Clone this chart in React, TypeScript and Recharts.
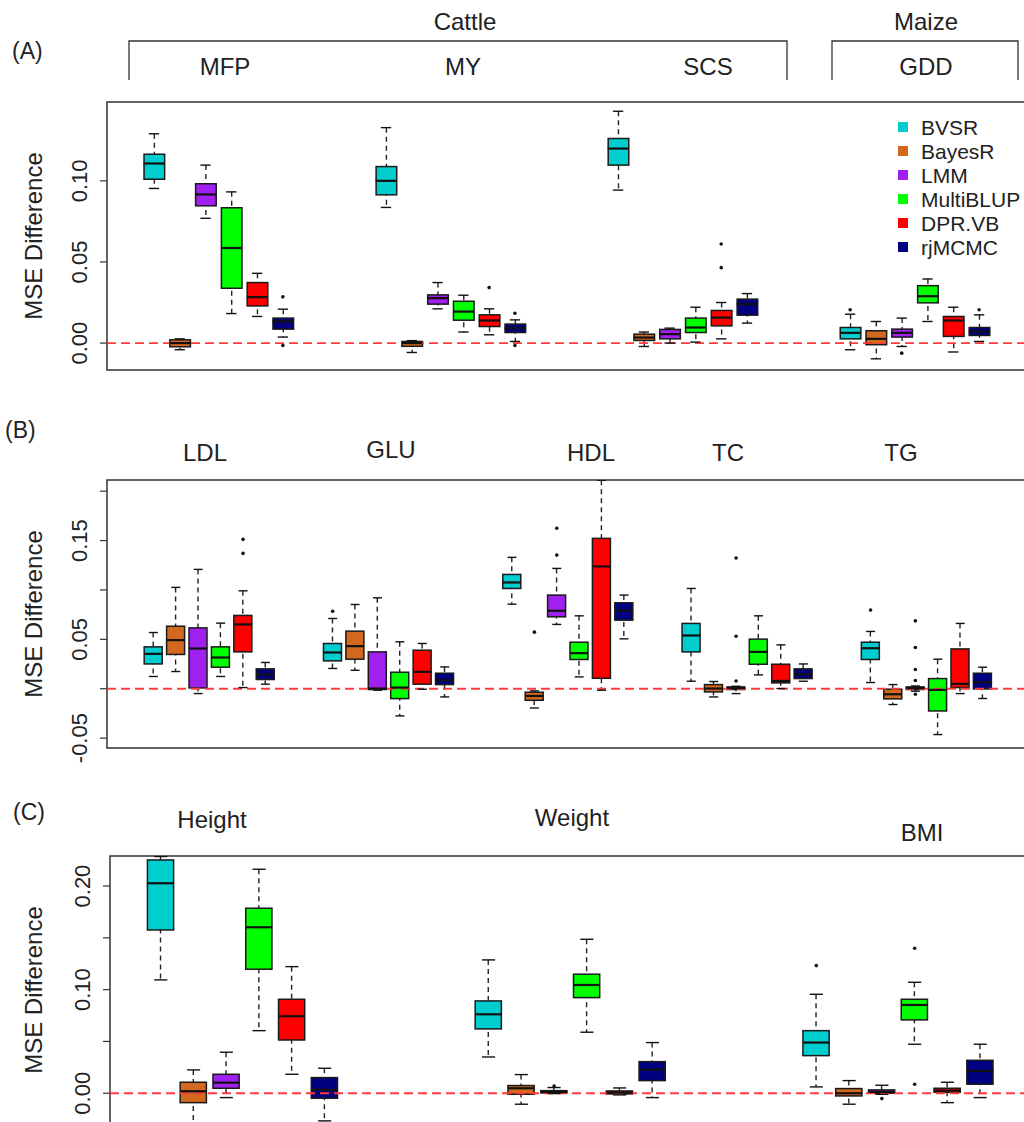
import React from 'react';
import { ComposedChart, Bar, Scatter, XAxis, YAxis, ReferenceLine, ReferenceArea } from 'recharts';

// Box statistics per method: [lower whisker, Q1, median, Q3, upper whisker]
type Stat = [number, number, number, number, number];

const METHODS = ['BVSR', 'BayesR', 'LMM', 'MultiBLUP', 'DPR.VB', 'rjMCMC'];
const COLORS = ['#00CDCD', '#D2691E', '#A020F0', '#00FF00', '#FF0000', '#000080'];

// ---- Panel A: cattle and maize traits ----
const TRAITS_A = ['MFP', 'MY', 'SCS', 'GDD'];
const MFP: Stat[] = [
  [0.0953, 0.101, 0.1107, 0.1164, 0.129],
  [-0.0041, -0.0023, 0.0, 0.002, 0.0026],
  [0.0769, 0.0846, 0.0916, 0.0982, 0.1097],
  [0.0182, 0.0338, 0.0586, 0.0834, 0.0932],
  [0.0164, 0.0229, 0.0283, 0.0373, 0.043],
  [0.0037, 0.0086, 0.0133, 0.0154, 0.0209],
];
const MFP_OUT: number[][] = [[], [], [], [], [], [0.0285, -0.0015]];
const MY: Stat[] = [
  [0.0836, 0.0914, 0.1, 0.1088, 0.1328],
  [-0.0058, -0.002, 0.0, 0.001, 0.0015],
  [0.0211, 0.024, 0.0277, 0.0297, 0.0373],
  [0.0068, 0.0141, 0.0194, 0.0258, 0.0295],
  [0.0051, 0.0102, 0.0139, 0.0174, 0.0211],
  [0.001, 0.0065, 0.0092, 0.0117, 0.0143],
];
const MY_OUT: number[][] = [[], [], [], [], [0.0342], [0.0184, -0.0015]];
const SCS: Stat[] = [
  [0.0943, 0.1097, 0.1199, 0.1261, 0.1429],
  [-0.0021, 0.0016, 0.0034, 0.0055, 0.0068],
  [0.0, 0.0026, 0.0055, 0.0084, 0.0092],
  [0.0006, 0.0065, 0.0096, 0.0154, 0.0221],
  [0.0026, 0.0106, 0.0157, 0.0201, 0.025],
  [0.0123, 0.0172, 0.024, 0.0271, 0.0305],
];
const SCS_OUT: number[][] = [[], [], [], [], [0.0611, 0.0465], []];
const GDD: Stat[] = [
  [-0.0041, 0.0026, 0.0063, 0.0096, 0.0178],
  [-0.0097, -0.001, 0.0026, 0.0076, 0.0133],
  [-0.0021, 0.0037, 0.0063, 0.0086, 0.0154],
  [0.0133, 0.0248, 0.0289, 0.0354, 0.0395],
  [-0.0055, 0.0041, 0.0139, 0.0164, 0.0221],
  [0.001, 0.0047, 0.0071, 0.0096, 0.0174],
];
const GDD_OUT: number[][] = [[0.0205], [], [-0.0062], [], [], [0.0205]];

// ---- Panel B: blood lipid / glucose traits ----
const TRAITS_B = ['LDL', 'GLU', 'HDL', 'TC', 'TG'];
const LDL: Stat[] = [
  [0.0124, 0.0251, 0.0353, 0.0424, 0.0569],
  [0.0174, 0.0347, 0.0492, 0.0633, 0.1026],
  [-0.0049, 0.0008, 0.0407, 0.0616, 0.1208],
  [0.0124, 0.0218, 0.0316, 0.0424, 0.0664],
  [0.0012, 0.0373, 0.0651, 0.0742, 0.0991],
  [0.0046, 0.0093, 0.0144, 0.0201, 0.0266],
];
const LDL_OUT: number[][] = [[], [], [], [], [0.1512, 0.137], []];
const GLU: Stat[] = [
  [0.0205, 0.0282, 0.0367, 0.0458, 0.0711],
  [0.0187, 0.0299, 0.0431, 0.0583, 0.0853],
  [-0.0015, -0.0008, 0.0002, 0.0373, 0.092],
  [-0.0275, -0.01, 0.0012, 0.0167, 0.0475],
  [-0.0005, 0.0046, 0.0171, 0.039, 0.0458],
  [-0.0083, 0.0042, 0.0086, 0.0157, 0.0221],
];
const GLU_OUT: number[][] = [[0.0785], [], [], [], [], []];
const HDL: Stat[] = [
  [0.0856, 0.1015, 0.1076, 0.1157, 0.133],
  [-0.0195, -0.0117, -0.0073, -0.0035, -0.0022],
  [0.0651, 0.0728, 0.0789, 0.0948, 0.1218],
  [0.012, 0.0296, 0.036, 0.0471, 0.0738],
  [-0.0015, 0.0106, 0.1238, 0.1522, 0.211],
  [0.0505, 0.0694, 0.0792, 0.087, 0.0948],
];
const HDL_OUT: number[][] = [[], [0.0573], [0.1624, 0.1353], [], [], []];
const TC: Stat[] = [
  [0.0076, 0.0373, 0.0539, 0.0661, 0.1015],
  [-0.0083, -0.0032, 0.0002, 0.0042, 0.0073],
  [-0.0049, -0.0008, 0.0008, 0.0018, 0.0025],
  [0.014, 0.0248, 0.0373, 0.0502, 0.0738],
  [0.0002, 0.0059, 0.0079, 0.0248, 0.0444],
  [0.0076, 0.0103, 0.0147, 0.0201, 0.0251],
];
const TC_OUT: number[][] = [[], [], [0.1323, 0.0532, 0.0079], [], [], []];
const TG: Stat[] = [
  [0.0063, 0.0296, 0.041, 0.0471, 0.058],
  [-0.016, -0.0103, -0.0056, -0.0005, 0.0042],
  [-0.0025, -0.0008, 0.0008, 0.0018, 0.0028],
  [-0.0464, -0.0225, -0.0012, 0.0103, 0.0299],
  [-0.0049, 0.0012, 0.0049, 0.0403, 0.0661],
  [-0.0099, -0.0002, 0.0066, 0.0157, 0.0218],
];
const TG_OUT: number[][] = [[0.0796], [], [0.0687, 0.0417, 0.0194, 0.0083, -0.0056], [], [], []];

// ---- Panel C: anthropometric traits ----
const TRAITS_C = ['Height', 'Weight', 'BMI'];
const HEIGHT: Stat[] = [
  [0.1094, 0.1576, 0.2027, 0.2252, 0.2285],
  [-0.029, -0.0091, 0.0019, 0.0106, 0.0225],
  [-0.0042, 0.0048, 0.0102, 0.0183, 0.0396],
  [0.0604, 0.1197, 0.1602, 0.1786, 0.2162],
  [0.0183, 0.0514, 0.0743, 0.0907, 0.1222],
  [-0.0267, -0.0048, 0.0032, 0.0151, 0.0241],
];
const HEIGHT_OUT: number[][] = [[], [], [], [], [], []];
const WEIGHT: Stat[] = [
  [0.035, 0.0621, 0.0762, 0.0891, 0.1287],
  [-0.0106, -0.001, 0.0048, 0.0074, 0.018],
  [-0.0003, 0.0003, 0.0012, 0.0025, 0.0055],
  [0.0589, 0.0923, 0.1045, 0.1149, 0.1486],
  [-0.0016, -0.0007, 0.0006, 0.0022, 0.0051],
  [-0.0042, 0.0122, 0.0228, 0.0305, 0.0489],
];
const WEIGHT_OUT: number[][] = [[], [], [0.007], [], [], []];
const BMI: Stat[] = [
  [0.0061, 0.0363, 0.0489, 0.0604, 0.0955],
  [-0.0106, -0.0026, 0.0, 0.0045, 0.0122],
  [-0.001, 0.0, 0.0013, 0.0032, 0.0077],
  [0.0473, 0.0708, 0.0852, 0.0907, 0.1071],
  [-0.0091, 0.001, 0.0025, 0.0048, 0.0106],
  [-0.0042, 0.0087, 0.0215, 0.0318, 0.0473],
];
const BMI_OUT: number[][] = [[0.1232], [], [-0.0052], [0.14, 0.0087], [], []];

// Y axis ticks and which of them carry a label
const TICKS_A = [0, 0.05, 0.1];
const LABELS_A = [0, 0.05, 0.1];
const TICKS_B = [-0.05, 0, 0.05, 0.1, 0.15, 0.2];
const LABELS_B = [-0.05, 0.05, 0.15];
const TICKS_C = [0, 0.05, 0.1, 0.15, 0.2];
const LABELS_C = [0, 0.1, 0.2];

const FONT = "'Liberation Sans', Arial, Helvetica, sans-serif";
const INK = '#222';

interface BoxRow { pos: number; lo: number; q1: number; med: number; q3: number; hi: number; color: string }
interface PointRow { pos: number; v: number }

// Groups of six boxes separated by an empty gap; `step` is the slot distance between groups.
function buildPanel(groups: Stat[][], outs: number[][][], step: number) {
  const rows: BoxRow[] = [];
  const meds: PointRow[] = [];
  const caps: PointRow[] = [];
  const points: PointRow[] = [];
  groups.forEach((g, gi) => {
    g.forEach(([lo, q1, med, q3, hi], mi) => {
      const pos = gi * step + mi + 1;
      rows.push({ pos, lo, q1, med, q3, hi, color: COLORS[mi] });
      meds.push({ pos, v: med });
      caps.push({ pos, v: lo }, { pos, v: hi });
      outs[gi][mi].forEach((v) => points.push({ pos, v }));
    });
  });
  return { rows, meds, caps, points };
}

const panelA = buildPanel([MFP, MY, SCS, GDD], [MFP_OUT, MY_OUT, SCS_OUT, GDD_OUT], 9);
const panelB = buildPanel([LDL, GLU, HDL, TC, TG], [LDL_OUT, GLU_OUT, HDL_OUT, TC_OUT, TG_OUT], 8);
const panelC = buildPanel([HEIGHT, WEIGHT, BMI], [HEIGHT_OUT, WEIGHT_OUT, BMI_OUT], 10);

function WhiskerShape(props: any) {
  const { x, y, width, height } = props;
  const cx = x + width / 2;
  return <line x1={cx} x2={cx} y1={y} y2={y + height} stroke={INK} strokeWidth={1.4} strokeDasharray="5 4" />;
}

function BoxShape(props: any) {
  const { x, y, width, height, payload } = props;
  return (
    <rect x={x} y={Math.min(y, y + height)} width={width} height={Math.abs(height)}
      fill={payload.color} stroke="#1a1a1a" strokeWidth={1.5} />
  );
}

function HLine(props: any) {
  const { cx, cy, w, sw } = props;
  return <line x1={cx - w / 2} x2={cx + w / 2} y1={cy} y2={cy} stroke="#111" strokeWidth={sw} />;
}

function Dot(props: any) {
  const { cx, cy } = props;
  return <circle cx={cx} cy={cy} r={1.8} fill="#111" />;
}

function RotTick(props: any) {
  const { x, y, payload, labels } = props;
  const show = labels.some((l: number) => Math.abs(l - payload.value) < 1e-9);
  if (!show) return null;
  const tx = x - 13;
  return (
    <text x={tx} y={y} transform={`rotate(-90 ${tx} ${y})`} textAnchor="middle"
      fontSize={22} fill={INK} fontFamily={FONT}>
      {payload.value.toFixed(2)}
    </text>
  );
}

interface PanelProps {
  data: ReturnType<typeof buildPanel>;
  xDomain: [number, number];
  yDomain: [number, number];
  ticks: number[];
  labels: number[];
  boxW: number;
  height: number;
  margin: { top: number; right: number; bottom: number; left: number };
  yAxisWidth: number;
}

function BoxPanel({ data, xDomain, yDomain, ticks, labels, boxW, height, margin, yAxisWidth }: PanelProps) {
  return (
    <ComposedChart width={1040} height={height} data={data.rows} margin={margin}>
      <XAxis xAxisId="box" type="number" dataKey="pos" domain={xDomain} hide allowDataOverflow />
      <XAxis xAxisId="wh" type="number" dataKey="pos" domain={xDomain} hide allowDataOverflow />
      <YAxis type="number" domain={yDomain} ticks={ticks} interval={0} width={yAxisWidth}
        tickSize={7} tickMargin={0} axisLine={false} tickLine={{ stroke: '#333', strokeWidth: 1.2 }}
        tick={<RotTick labels={labels} />} allowDataOverflow />
      <Bar xAxisId="wh" dataKey={(d: BoxRow) => [d.lo, d.hi]} barSize={boxW}
        shape={<WhiskerShape />} isAnimationActive={false} />
      <Bar xAxisId="box" dataKey={(d: BoxRow) => [d.q1, d.q3]} barSize={boxW}
        shape={<BoxShape />} isAnimationActive={false} />
      <Scatter xAxisId="box" data={data.meds} dataKey="v" shape={<HLine w={boxW} sw={2.2} />} isAnimationActive={false} />
      <Scatter xAxisId="box" data={data.caps} dataKey="v" shape={<HLine w={boxW / 2} sw={1.4} />} isAnimationActive={false} />
      <Scatter xAxisId="box" data={data.points} dataKey="v" shape={<Dot />} isAnimationActive={false} />
      <ReferenceLine xAxisId="box" y={0} stroke="#FF3B3B" strokeDasharray="9 5" strokeWidth={1.8} />
      <ReferenceArea xAxisId="box" x1={xDomain[0]} x2={xDomain[1]} y1={yDomain[0]} y2={yDomain[1]}
        fill="none" stroke="#333" strokeWidth={1.5} strokeOpacity={1} fillOpacity={0} />
    </ComposedChart>
  );
}

const headStyle = { fontFamily: FONT, fill: INK } as const;

function Headings() {
  return (
    <svg width={1024} height={1122} style={{ position: 'absolute', left: 0, top: 0, pointerEvents: 'none' }}>
      <g {...headStyle}>
        {/* panel tags */}
        <text x={12} y={59} fontSize={23}>(A)</text>
        <text x={5} y={438} fontSize={23}>(B)</text>
        <text x={13} y={820} fontSize={23}>(C)</text>

        {/* panel A species brackets */}
        <text x={465} y={30} fontSize={24} textAnchor="middle">Cattle</text>
        <text x={926} y={30} fontSize={24} textAnchor="middle">Maize</text>
        <path d="M129,80 V41 H787 V80 M832,80 V41 H1018 V80" fill="none" stroke="#333" strokeWidth={1.3} />
        {TRAITS_A.map((t, i) => (
          <text key={t} x={[225, 463, 708, 926][i]} y={75} fontSize={24} textAnchor="middle">{t}</text>
        ))}
        {TRAITS_B.map((t, i) => (
          <text key={t} x={[205, 391, 591, 728, 901][i]} y={[461, 458, 461, 461, 461][i]} fontSize={24} textAnchor="middle">{t}</text>
        ))}
        {TRAITS_C.map((t, i) => (
          <text key={t} x={[212, 572, 922][i]} y={[828, 826, 841][i]} fontSize={24} textAnchor="middle">{t}</text>
        ))}

        {/* y axis titles */}
        {[236, 614, 990].map((cy) => (
          <text key={cy} x={42} y={cy} fontSize={24} textAnchor="middle" transform={`rotate(-90 42 ${cy})`}>MSE Difference</text>
        ))}

        {/* legend */}
        {METHODS.map((m, i) => {
          const cy = 127 + i * 24;
          return (
            <g key={m}>
              <rect x={898} y={cy - 5} width={10} height={10} fill={COLORS[i]} />
              <text x={921} y={cy + 7.5} fontSize={21}>{m}</text>
            </g>
          );
        })}
      </g>
    </svg>
  );
}

export default function App() {
  return (
    <div style={{ position: 'absolute', left: 0, top: 0, width: 1024, height: 1122, overflow: 'hidden', background: '#fff' }}>
      <div style={{ position: 'absolute', left: 0, top: 0 }}>
        <BoxPanel data={panelA} xDomain={[-0.82, 34.82]} yDomain={[-0.0166, 0.1486]} ticks={TICKS_A} labels={LABELS_A}
          boxW={20.6} height={380} margin={{ top: 102, right: 14, bottom: 10, left: 0 }} yAxisWidth={107} />
      </div>
      <div style={{ position: 'absolute', left: 0, top: 470 }}>
        <BoxPanel data={panelB} xDomain={[-1.07, 40.07]} yDomain={[-0.06, 0.2113]} ticks={TICKS_B} labels={LABELS_B}
          boxW={18} height={310} margin={{ top: 10, right: 11, bottom: 32, left: 0 }} yAxisWidth={107} />
      </div>
      <div style={{ position: 'absolute', left: 0, top: 846 }}>
        <BoxPanel data={panelC} xDomain={[-0.55, 27.55]} yDomain={[-0.0297, 0.229]} ticks={TICKS_C} labels={LABELS_C}
          boxW={26.2} height={300} margin={{ top: 10, right: 9, bottom: 22, left: 0 }} yAxisWidth={110} />
      </div>
      <Headings />
    </div>
  );
}
